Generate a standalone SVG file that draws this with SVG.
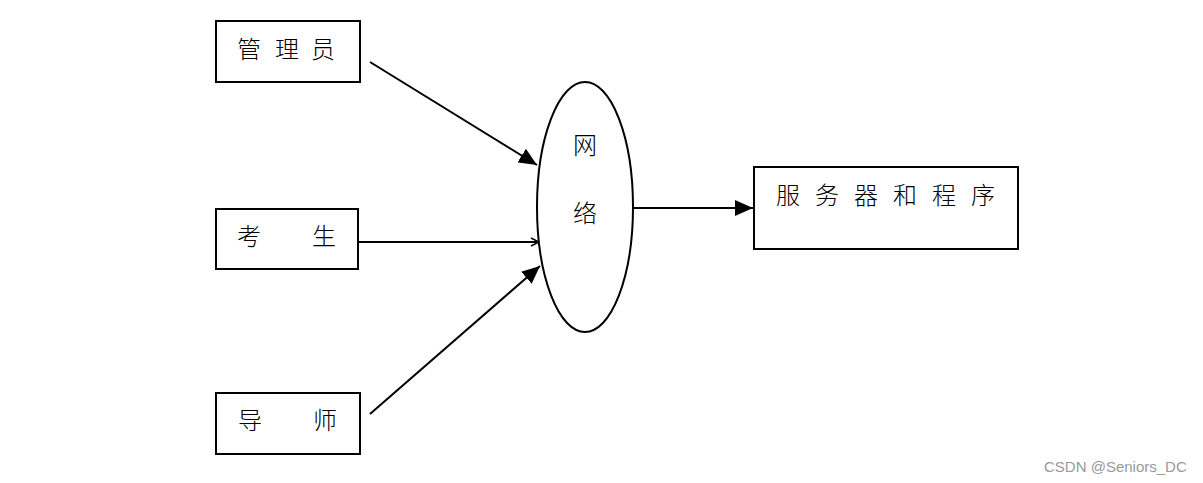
<svg xmlns="http://www.w3.org/2000/svg" width="1203" height="483" viewBox="0 0 1203 483">
<style>
.box{fill:#fff;stroke:#000;stroke-width:2}
.t{font-family:"Noto Sans CJK SC","Noto Sans",sans-serif;font-size:24px;fill:#000;text-anchor:middle;font-weight:300}
.c{stroke:#000;stroke-width:2;fill:none}
.wm{font-family:"Liberation Sans",Arial,sans-serif;font-size:15px;fill:#999}
</style>
<defs>
<marker id="ah2" markerWidth="20" markerHeight="16" refX="18" refY="8" orient="auto" markerUnits="userSpaceOnUse" viewBox="0 0 20 16">
<path d="M0,0 L18,8 L0,16 z" fill="#000"/>
</marker>
<marker id="ao" markerWidth="10" markerHeight="10" refX="9" refY="5" orient="auto" markerUnits="userSpaceOnUse" viewBox="0 0 10 10">
<path d="M1,1 L9,5 L1,9" fill="none" stroke="#000" stroke-width="1.5"/>
</marker>
</defs>
<rect width="1203" height="483" fill="#fff"/>
<g id="connectors">
<line class="c" x1="370" y1="62" x2="537" y2="165" marker-end="url(#ah2)"/>
<line class="c" x1="359" y1="242" x2="539" y2="242" marker-end="url(#ao)"/>
<line class="c" x1="370" y1="414" x2="540" y2="266" marker-end="url(#ah2)"/>
<line class="c" x1="633" y1="208" x2="753" y2="208" marker-end="url(#ah2)"/>
</g>
<g id="admin">
<rect class="box" x="216" y="21" width="144" height="61"/>
<text class="t" y="58"><tspan x="249">管</tspan><tspan x="287">理</tspan><tspan x="323">员</tspan></text>
</g>
<g id="student">
<rect class="box" x="216" y="209" width="142" height="60"/>
<text class="t" y="245"><tspan x="249">考</tspan><tspan x="324">生</tspan></text>
</g>
<g id="teacher">
<rect class="box" x="216" y="393" width="144" height="61"/>
<text class="t" y="429"><tspan x="250">导</tspan><tspan x="325">师</tspan></text>
</g>
<g id="network">
<ellipse cx="585" cy="207" rx="48" ry="125" fill="#fff" stroke="#000" stroke-width="2"/>
<text class="t" x="585" y="154">网</text>
<text class="t" x="585" y="222">络</text>
</g>
<g id="server">
<rect class="box" x="754" y="167" width="264" height="82"/>
<text class="t" y="204"><tspan x="788">服</tspan><tspan x="827">务</tspan><tspan x="866">器</tspan><tspan x="905">和</tspan><tspan x="944">程</tspan><tspan x="983">序</tspan></text>
</g>
<text class="wm" x="1044" y="472">CSDN @Seniors_DC</text>
</svg>
